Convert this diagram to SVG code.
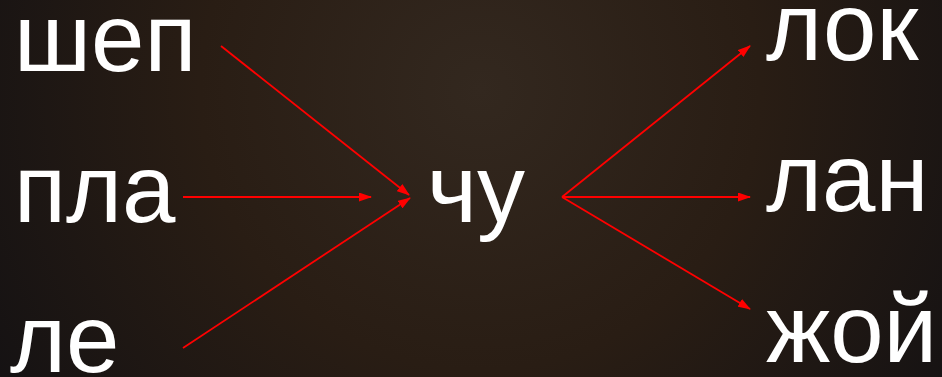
<svg xmlns="http://www.w3.org/2000/svg" width="942" height="377" viewBox="0 0 942 377">
<defs>
<radialGradient id="bg" cx="480" cy="90" r="560" gradientUnits="userSpaceOnUse">
<stop offset="0" stop-color="#33281f"/>
<stop offset="0.5" stop-color="#291d14"/>
<stop offset="1" stop-color="#151213"/>
</radialGradient>
<marker id="ah" markerWidth="13" markerHeight="9" refX="12" refY="4.5" orient="auto" markerUnits="userSpaceOnUse">
<path d="M0,0 L13,4.5 L0,9 z" fill="#ff0000"/>
</marker>
<style>
.t{font-family:"Liberation Sans",Arial,sans-serif;font-size:96px;fill:#ffffff}
.c{stroke:#ff0000;stroke-width:1.8;fill:none;marker-end:url(#ah)}
</style>
</defs>
<rect width="942" height="377" fill="url(#bg)"/>
<g id="connectors">
<line class="c" x1="221" y1="46" x2="409" y2="195"/>
<line class="c" x1="183" y1="197" x2="371" y2="197"/>
<line class="c" x1="183" y1="348" x2="410" y2="198"/>
<line class="c" x1="562" y1="197" x2="750" y2="46"/>
<line class="c" x1="562" y1="197" x2="750" y2="197"/>
<line class="c" x1="562" y1="197" x2="750" y2="309"/>
</g>
<g id="node-shep"><text class="t" x="14" y="71">шеп</text></g>
<g id="node-pla"><text class="t" x="14" y="222">пла</text></g>
<g id="node-le"><text class="t" x="10" y="372">ле</text></g>
<g id="node-chu"><text class="t" x="427" y="222">чу</text></g>
<g id="node-lok"><text class="t" x="766" y="60">лок</text></g>
<g id="node-lan"><text class="t" x="766" y="211">лан</text></g>
<g id="node-zhoy"><text class="t" x="766" y="362">жой</text></g>
</svg>
